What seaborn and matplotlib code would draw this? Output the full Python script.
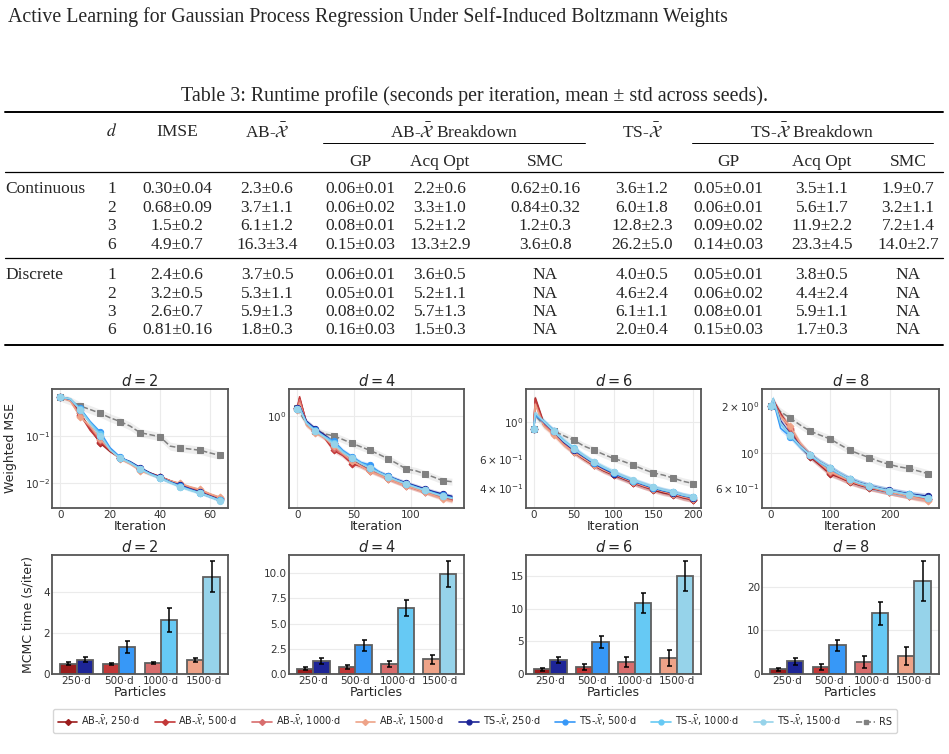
import numpy as np
import pandas as pd
import matplotlib
matplotlib.use('Agg')
import matplotlib.pyplot as plt
from matplotlib.lines import Line2D
import seaborn as sns

W, H = 949, 754

# ---------------- table values ----------------
header_title = "Active Learning for Gaussian Process Regression Under Self-Induced Boltzmann Weights"
table_caption = "Table 3: Runtime profile (seconds per iteration, mean \u00b1 std across seeds)."
table_groups = ["Continuous", "Discrete"]
table_d = ["1", "2", "3", "6"]
imse_cont = ["0.30\u00b10.04", "0.68\u00b10.09", "1.5\u00b10.2", "4.9\u00b10.7"]
imse_disc = ["2.4\u00b10.6", "3.2\u00b10.5", "2.6\u00b10.7", "0.81\u00b10.16"]
ab_cont = ["2.3\u00b10.6", "3.7\u00b11.1", "6.1\u00b11.2", "16.3\u00b13.4"]
ab_disc = ["3.7\u00b10.5", "5.3\u00b11.1", "5.9\u00b11.3", "1.8\u00b10.3"]
ab_gp_cont = ["0.06\u00b10.01", "0.06\u00b10.02", "0.08\u00b10.01", "0.15\u00b10.03"]
ab_gp_disc = ["0.06\u00b10.01", "0.05\u00b10.01", "0.08\u00b10.02", "0.16\u00b10.03"]
ab_acq_cont = ["2.2\u00b10.6", "3.3\u00b11.0", "5.2\u00b11.2", "13.3\u00b12.9"]
ab_acq_disc = ["3.6\u00b10.5", "5.2\u00b11.1", "5.7\u00b11.3", "1.5\u00b10.3"]
ab_smc_cont = ["0.62\u00b10.16", "0.84\u00b10.32", "1.2\u00b10.3", "3.6\u00b10.8"]
ab_smc_disc = ["NA", "NA", "NA", "NA"]
ts_cont = ["3.6\u00b11.2", "6.0\u00b11.8", "12.8\u00b12.3", "26.2\u00b15.0"]
ts_disc = ["4.0\u00b10.5", "4.6\u00b12.4", "6.1\u00b11.1", "2.0\u00b10.4"]
ts_gp_cont = ["0.05\u00b10.01", "0.06\u00b10.01", "0.09\u00b10.02", "0.14\u00b10.03"]
ts_gp_disc = ["0.05\u00b10.01", "0.06\u00b10.02", "0.08\u00b10.01", "0.15\u00b10.03"]
ts_acq_cont = ["3.5\u00b11.1", "5.6\u00b11.7", "11.9\u00b12.2", "23.3\u00b14.5"]
ts_acq_disc = ["3.8\u00b10.5", "4.4\u00b12.4", "5.9\u00b11.1", "1.7\u00b10.3"]
ts_smc_cont = ["1.9\u00b10.7", "3.2\u00b11.1", "7.2\u00b11.4", "14.0\u00b12.7"]
ts_smc_disc = ["NA", "NA", "NA", "NA"]

# ---------------- learning curves (weighted MSE) ----------------
dims = [2, 4, 6, 8]

iters_d2 = [0, 4, 8, 12, 16, 20, 24, 28, 32, 36, 40, 44, 48, 52, 56, 60, 64]
marks_d2 = [0, 8, 16, 24, 32, 40, 48, 56, 64]
mse_d2_ab250 = [0.66, 0.60, 0.30, 0.14, 0.070, 0.046, 0.034, 0.027, 0.020, 0.016, 0.0135, 0.011, 0.0092, 0.0078, 0.0066, 0.0056, 0.0046]
mse_d2_ab500 = [0.66, 0.58, 0.28, 0.13, 0.075, 0.048, 0.033, 0.026, 0.020, 0.016, 0.0132, 0.011, 0.0090, 0.0076, 0.0068, 0.0055, 0.0047]
mse_d2_ab1000 = [0.66, 0.57, 0.26, 0.15, 0.080, 0.050, 0.034, 0.026, 0.019, 0.0155, 0.013, 0.0108, 0.0095, 0.0080, 0.0070, 0.0057, 0.0048]
mse_d2_ab1500 = [0.66, 0.55, 0.25, 0.16, 0.085, 0.050, 0.032, 0.025, 0.018, 0.015, 0.013, 0.011, 0.0097, 0.0082, 0.0072, 0.0058, 0.0049]
mse_d2_ts250 = [0.66, 0.60, 0.36, 0.19, 0.10, 0.052, 0.034, 0.028, 0.021, 0.016, 0.013, 0.0105, 0.0088, 0.0074, 0.0062, 0.0052, 0.0043]
mse_d2_ts500 = [0.66, 0.60, 0.38, 0.20, 0.12, 0.055, 0.035, 0.027, 0.020, 0.0155, 0.0125, 0.0102, 0.0085, 0.0072, 0.0060, 0.0050, 0.0042]
mse_d2_ts1000 = [0.66, 0.61, 0.37, 0.19, 0.11, 0.050, 0.034, 0.027, 0.020, 0.0155, 0.0128, 0.0103, 0.0083, 0.0070, 0.0061, 0.0051, 0.0042]
mse_d2_ts1500 = [0.66, 0.61, 0.35, 0.18, 0.10, 0.050, 0.033, 0.026, 0.0195, 0.015, 0.0125, 0.0100, 0.0082, 0.0069, 0.0060, 0.0050, 0.0041]
mse_d2_rs = [0.66, 0.55, 0.43, 0.36, 0.30, 0.24, 0.20, 0.16, 0.116, 0.105, 0.095, 0.060, 0.055, 0.052, 0.049, 0.043, 0.038]

iters_d4 = [0, 2, 8, 16, 24, 32, 40, 48, 56, 64, 72, 80, 88, 96, 104, 112, 120, 128, 136]
marks_d4 = [0, 16, 32, 48, 64, 80, 96, 112, 128]
mse_d4_ab250 = [1.20, 1.50, 0.88, 0.74, 0.66, 0.55, 0.45, 0.38, 0.34, 0.305, 0.28, 0.255, 0.235, 0.218, 0.205, 0.19, 0.178, 0.168, 0.16]
mse_d4_ab500 = [1.20, 1.55, 0.86, 0.72, 0.62, 0.47, 0.42, 0.35, 0.33, 0.30, 0.275, 0.25, 0.232, 0.215, 0.20, 0.188, 0.175, 0.165, 0.156]
mse_d4_ab1000 = [1.18, 1.45, 0.85, 0.72, 0.64, 0.50, 0.43, 0.37, 0.335, 0.30, 0.277, 0.253, 0.233, 0.216, 0.202, 0.188, 0.176, 0.164, 0.155]
mse_d4_ab1500 = [1.15, 1.35, 0.82, 0.69, 0.62, 0.52, 0.44, 0.375, 0.33, 0.295, 0.272, 0.25, 0.23, 0.213, 0.20, 0.186, 0.173, 0.16, 0.152]
mse_d4_ts250 = [1.20, 1.25, 0.90, 0.76, 0.66, 0.56, 0.46, 0.40, 0.35, 0.315, 0.29, 0.265, 0.245, 0.228, 0.214, 0.20, 0.188, 0.178, 0.17]
mse_d4_ts500 = [1.18, 1.20, 0.88, 0.74, 0.64, 0.58, 0.47, 0.41, 0.36, 0.34, 0.29, 0.265, 0.243, 0.225, 0.21, 0.196, 0.184, 0.173, 0.165]
mse_d4_ts1000 = [1.18, 1.22, 0.87, 0.73, 0.64, 0.56, 0.46, 0.40, 0.355, 0.32, 0.288, 0.262, 0.24, 0.223, 0.208, 0.195, 0.182, 0.171, 0.163]
mse_d4_ts1500 = [1.17, 1.20, 0.86, 0.72, 0.63, 0.54, 0.45, 0.395, 0.35, 0.315, 0.285, 0.26, 0.24, 0.222, 0.207, 0.194, 0.181, 0.17, 0.162]
mse_d4_rs = [1.20, 1.10, 0.85, 0.73, 0.68, 0.65, 0.60, 0.55, 0.51, 0.47, 0.43, 0.39, 0.35, 0.31, 0.30, 0.28, 0.26, 0.24, 0.235]

iters_d6 = [0, 2, 12.5, 25, 37.5, 50, 62.5, 75, 87.5, 100, 112.5, 125, 137.5, 150, 162.5, 175, 187.5, 200]
marks_d6 = [0, 25, 50, 75, 100, 125, 150, 175, 200]
mse_d6_ab250 = [0.91, 1.40, 0.99, 0.87, 0.74, 0.66, 0.60, 0.55, 0.51, 0.48, 0.455, 0.43, 0.41, 0.39, 0.375, 0.365, 0.35, 0.34]
mse_d6_ab500 = [0.91, 1.38, 0.98, 0.86, 0.75, 0.67, 0.61, 0.555, 0.515, 0.485, 0.46, 0.432, 0.41, 0.395, 0.38, 0.368, 0.352, 0.342]
mse_d6_ab1000 = [0.91, 1.30, 0.97, 0.85, 0.74, 0.67, 0.61, 0.56, 0.52, 0.488, 0.462, 0.436, 0.415, 0.398, 0.383, 0.37, 0.355, 0.345]
mse_d6_ab1500 = [0.91, 1.28, 0.95, 0.84, 0.73, 0.66, 0.605, 0.555, 0.515, 0.486, 0.46, 0.435, 0.414, 0.397, 0.382, 0.37, 0.355, 0.346]
mse_d6_ts250 = [0.91, 1.12, 1.00, 0.88, 0.76, 0.68, 0.62, 0.565, 0.525, 0.49, 0.465, 0.44, 0.42, 0.40, 0.386, 0.375, 0.36, 0.35]
mse_d6_ts500 = [0.91, 1.10, 1.01, 0.89, 0.77, 0.69, 0.625, 0.57, 0.53, 0.495, 0.468, 0.442, 0.422, 0.403, 0.388, 0.377, 0.362, 0.352]
mse_d6_ts1000 = [0.91, 1.13, 1.02, 0.89, 0.78, 0.70, 0.63, 0.575, 0.535, 0.50, 0.47, 0.445, 0.425, 0.405, 0.39, 0.378, 0.363, 0.353]
mse_d6_ts1500 = [0.91, 1.14, 1.01, 0.88, 0.77, 0.69, 0.63, 0.575, 0.535, 0.502, 0.472, 0.447, 0.426, 0.406, 0.391, 0.379, 0.364, 0.354]
mse_d6_rs = [0.91, 1.10, 0.96, 0.886, 0.83, 0.78, 0.72, 0.68, 0.64, 0.605, 0.58, 0.55, 0.52, 0.495, 0.48, 0.46, 0.44, 0.427]

iters_d8 = [0, 4, 16.5, 33, 49.5, 66, 82.5, 99, 115.5, 132, 148.5, 165, 181.5, 198, 214.5, 231, 247.5, 264]
marks_d8 = [0, 33, 66, 99, 132, 165, 198, 231, 264]
mse_d8_ab250 = [2.0, 2.20, 1.80, 1.42, 1.12, 0.95, 0.84, 0.74, 0.70, 0.655, 0.625, 0.60, 0.582, 0.565, 0.55, 0.535, 0.522, 0.512]
mse_d8_ab500 = [2.0, 2.18, 1.78, 1.44, 1.14, 0.96, 0.85, 0.75, 0.705, 0.66, 0.63, 0.605, 0.585, 0.566, 0.55, 0.535, 0.52, 0.508]
mse_d8_ab1000 = [2.0, 2.15, 1.75, 1.46, 1.15, 0.97, 0.86, 0.76, 0.71, 0.665, 0.632, 0.607, 0.586, 0.567, 0.55, 0.534, 0.518, 0.503]
mse_d8_ab1500 = [2.0, 2.12, 1.72, 1.49, 1.16, 0.98, 0.865, 0.765, 0.715, 0.668, 0.634, 0.608, 0.586, 0.566, 0.548, 0.53, 0.512, 0.495]
mse_d8_ts250 = [2.0, 2.22, 1.62, 1.32, 1.12, 0.98, 0.88, 0.81, 0.74, 0.685, 0.648, 0.62, 0.598, 0.58, 0.565, 0.55, 0.54, 0.53]
mse_d8_ts500 = [2.0, 2.20, 1.45, 1.28, 1.10, 0.97, 0.87, 0.80, 0.735, 0.68, 0.643, 0.615, 0.594, 0.576, 0.56, 0.545, 0.532, 0.52]
mse_d8_ts1000 = [2.0, 2.25, 1.55, 1.30, 1.11, 0.975, 0.875, 0.805, 0.738, 0.682, 0.645, 0.617, 0.595, 0.577, 0.561, 0.546, 0.533, 0.52]
mse_d8_ts1500 = [2.0, 2.24, 1.58, 1.31, 1.11, 0.98, 0.88, 0.81, 0.74, 0.683, 0.645, 0.617, 0.594, 0.575, 0.558, 0.543, 0.53, 0.515]
mse_d8_rs = [2.0, 2.05, 1.85, 1.68, 1.52, 1.39, 1.31, 1.24, 1.14, 1.05, 0.99, 0.94, 0.89, 0.85, 0.82, 0.80, 0.77, 0.74]

# relative band half-width (RS / methods) per panel
rs_band = [0.22, 0.08, 0.05, 0.06]
method_band = [0.07, 0.05, 0.04, 0.045]

# ---------------- MCMC time bars ----------------
particles = ["250\u00b7d", "500\u00b7d", "1000\u00b7d", "1500\u00b7d"]
time_ab_d2 = [0.50, 0.49, 0.55, 0.68]
err_ab_d2 = [0.07, 0.06, 0.06, 0.10]
time_ts_d2 = [0.70, 1.32, 2.63, 4.76]
err_ts_d2 = [0.11, 0.30, 0.59, 0.76]
time_ab_d4 = [0.53, 0.70, 1.00, 1.46]
err_ab_d4 = [0.13, 0.17, 0.31, 0.43]
time_ts_d4 = [1.26, 2.85, 6.56, 9.93]
err_ts_d4 = [0.30, 0.56, 0.78, 1.27]
time_ab_d6 = [0.72, 1.08, 1.80, 2.47]
err_ab_d6 = [0.23, 0.49, 0.75, 1.20]
time_ts_d6 = [2.10, 4.93, 10.9, 15.1]
err_ts_d6 = [0.46, 0.87, 1.50, 2.30]
time_ab_d8 = [1.07, 1.53, 2.76, 4.06]
err_ab_d8 = [0.42, 0.69, 1.42, 2.10]
time_ts_d8 = [2.9, 6.6, 13.9, 21.3]
err_ts_d8 = [0.73, 1.23, 2.60, 4.60]

ab_colors = ["#9b1c1c", "#c33838", "#d86d6d", "#eea388"]
ts_colors = ["#1d2597", "#3798f7", "#66c9f4", "#96d3ea"]
rs_color = "#808080"

# ---------------- style ----------------
sns.set_style("whitegrid", {"axes.edgecolor": "#555555", "grid.color": "#ebebeb",
                            "axes.labelcolor": "#262626", "xtick.color": "#333333",
                            "ytick.color": "#333333"})
plt.rcParams['font.family'] = ['DejaVu Sans']
plt.rcParams['axes.linewidth'] = 1.3
serif = ['Liberation Serif', 'DejaVu Serif']

fig = plt.figure(figsize=(W / 100, H / 100), dpi=100)


def fx(x):
    return x / W


def fy(y):
    return 1 - y / H


def rect(x0, y0, x1, y1):
    return [fx(x0), fy(y1), (x1 - x0) / W, (y1 - y0) / H]


def hline(x0, x1, y, lw):
    fig.add_artist(Line2D([fx(x0), fx(x1)], [fy(y), fy(y)], color='black', lw=lw))


def ttext(x, y, s, ha='center', size=12.5, **kw):
    fig.text(fx(x), fy(y), s, ha=ha, va='center_baseline', fontsize=size,
             family=serif, math_fontfamily='stix', **kw)


# ---------------- page header & table ----------------
fig.text(fx(8), fy(17), header_title, ha='left', va='center', fontsize=14.3, family=serif)
ttext(475, 94, table_caption, size=14.4)
hline(5, 943, 112, 1.4)
hline(323, 585, 143, 0.7)
hline(692, 933, 143, 0.7)
hline(5, 943, 172, 0.9)
hline(5, 943, 258, 0.9)
hline(5, 943, 345, 1.4)

col_x = [112, 177, 267, 360, 440, 545, 642, 728, 822, 908]
ttext(col_x[0], 130, "$d$")
ttext(col_x[1], 130, "IMSE")
ttext(col_x[2], 130, r"AB-$\bar{\mathcal{X}}$")
ttext(454, 130, r"AB-$\bar{\mathcal{X}}$ Breakdown")
ttext(col_x[6], 130, r"TS-$\bar{\mathcal{X}}$")
ttext(812, 130, r"TS-$\bar{\mathcal{X}}$ Breakdown")
for cx, s in zip([col_x[3], col_x[4], col_x[5], col_x[7], col_x[8], col_x[9]],
                 ["GP", "Acq Opt", "SMC", "GP", "Acq Opt", "SMC"]):
    ttext(cx, 160, s)

cont_cols = [imse_cont, ab_cont, ab_gp_cont, ab_acq_cont, ab_smc_cont,
             ts_cont, ts_gp_cont, ts_acq_cont, ts_smc_cont]
disc_cols = [imse_disc, ab_disc, ab_gp_disc, ab_acq_disc, ab_smc_disc,
             ts_disc, ts_gp_disc, ts_acq_disc, ts_smc_disc]
for group, cols, rows_y in [(table_groups[0], cont_cols, [187, 205.5, 224, 242.5]),
                            (table_groups[1], disc_cols, [273, 291.5, 310, 328.5])]:
    ttext(5, rows_y[0], group, ha='left')
    for r, y in enumerate(rows_y):
        ttext(col_x[0], y, table_d[r])
        for c, col in enumerate(cols):
            ttext(col_x[c + 1], y, col[r])

# ---------------- figure panels ----------------
top_x = [(52, 228), (289, 464), (526, 701), (762, 939)]
ylims = [(0.0029, 0.984), (0.131, 1.84), (0.304, 1.585), (0.446, 2.59)]
xlims = [(-3.3, 67.2), (-7.3, 146.6), (-9.6, 209.6), (-14.6, 281.8)]
bar_tops = [5.82, 11.8, 18.3, 27.3]

curve_sets = {
    2: (iters_d2, marks_d2, [mse_d2_ab250, mse_d2_ab500, mse_d2_ab1000, mse_d2_ab1500,
                             mse_d2_ts250, mse_d2_ts500, mse_d2_ts1000, mse_d2_ts1500], mse_d2_rs),
    4: (iters_d4, marks_d4, [mse_d4_ab250, mse_d4_ab500, mse_d4_ab1000, mse_d4_ab1500,
                             mse_d4_ts250, mse_d4_ts500, mse_d4_ts1000, mse_d4_ts1500], mse_d4_rs),
    6: (iters_d6, marks_d6, [mse_d6_ab250, mse_d6_ab500, mse_d6_ab1000, mse_d6_ab1500,
                             mse_d6_ts250, mse_d6_ts500, mse_d6_ts1000, mse_d6_ts1500], mse_d6_rs),
    8: (iters_d8, marks_d8, [mse_d8_ab250, mse_d8_ab500, mse_d8_ab1000, mse_d8_ab1500,
                             mse_d8_ts250, mse_d8_ts500, mse_d8_ts1000, mse_d8_ts1500], mse_d8_rs),
}
bar_sets = {
    2: (time_ab_d2, err_ab_d2, time_ts_d2, err_ts_d2),
    4: (time_ab_d4, err_ab_d4, time_ts_d4, err_ts_d4),
    6: (time_ab_d6, err_ab_d6, time_ts_d6, err_ts_d6),
    8: (time_ab_d8, err_ab_d8, time_ts_d8, err_ts_d8),
}
colors = ab_colors + ts_colors
markers = ['D'] * 4 + ['o'] * 4

for k, d in enumerate(dims):
    x0, x1 = top_x[k]
    # ---- learning curves ----
    ax = fig.add_axes(rect(x0, 389, x1, 508))
    ax.set_yscale('log')
    iters, marks, curves, rs = curve_sets[d]
    idx = [i for i, it in enumerate(iters) if it in marks]
    xs = np.array(iters, dtype=float)
    rs_arr = np.array(rs)
    ax.fill_between(xs, rs_arr / (1 + rs_band[k]), rs_arr * (1 + rs_band[k]),
                    color=rs_color, alpha=0.13, lw=0)
    sns.lineplot(x=xs, y=rs_arr, ax=ax, color=rs_color, lw=1.1, ls='--', marker='s',
                 markersize=4, markevery=idx, markeredgecolor=rs_color, zorder=3)
    for vals, c, m in zip(curves, colors, markers):
        v = np.array(vals)
        ax.fill_between(xs, v / (1 + method_band[k]), v * (1 + method_band[k]),
                        color=c, alpha=0.2, lw=0)
        sns.lineplot(x=xs, y=v, ax=ax, color=c, lw=1.1, marker=m,
                     markersize=3.5 if m == 'D' else 4.5, markevery=idx,
                     markeredgecolor=c, zorder=4)
    ax.set_xlim(*xlims[k])
    ax.set_ylim(*ylims[k])
    ax.set_title(f"$d = {d}$", fontsize=10.5, pad=2)
    ax.set_xlabel("Iteration", fontsize=9, labelpad=0)
    ax.tick_params(which='both', labelsize=7.5, pad=1.5, length=0)
    if k == 0:
        ax.set_ylabel("Weighted MSE", fontsize=9)
        ax.yaxis.set_label_coords(-0.2, 0.5)
    else:
        ax.set_ylabel("")

    # ---- MCMC time bars ----
    bx = fig.add_axes(rect(x0, 555, x1, 674))
    t_ab, e_ab, t_ts, e_ts = bar_sets[d]
    df = pd.DataFrame({
        "Particles": particles * 2,
        "time": t_ab + t_ts,
        "method": ["AB"] * 4 + ["TS"] * 4,
    })
    sns.barplot(data=df, x="Particles", y="time", hue="method", ax=bx, width=0.77,
                errorbar=None, legend=False, palette=[ab_colors[1], ts_colors[1]],
                edgecolor="#5f5f5f", linewidth=1.3)
    for cont, cols_, errs in zip(bx.containers, [ab_colors, ts_colors], [e_ab, e_ts]):
        for bar, c, e in zip(cont, cols_, errs):
            bar.set_facecolor(c)
            bx.errorbar(bar.get_x() + bar.get_width() / 2, bar.get_height(), yerr=e,
                        color='black', lw=1.1, capsize=1.8, capthick=1.1, zorder=5)
    bx.set_xlim(-0.58, 3.58)
    bx.set_ylim(0, bar_tops[k])
    bx.set_title(f"$d = {d}$", fontsize=10.5, pad=2)
    bx.set_xlabel("Particles", fontsize=9, labelpad=0)
    bx.tick_params(which='both', labelsize=7.5, pad=1.5, length=0)
    if k == 0:
        bx.set_ylabel("MCMC time (s/iter)", fontsize=9)
        bx.yaxis.set_label_coords(-0.1, 0.5)
    else:
        bx.set_ylabel("")

# ---------------- legend ----------------
handles = []
labels = []
for i, p in enumerate(["250", "500", "1000", "1500"]):
    handles.append(Line2D([], [], color=ab_colors[i], marker='D', markersize=3, lw=1.2))
    labels.append(r"AB-$\bar{\mathcal{X}}$, " + p + "\u00b7d")
for i, p in enumerate(["250", "500", "1000", "1500"]):
    handles.append(Line2D([], [], color=ts_colors[i], marker='o', markersize=3.5, lw=1.2))
    labels.append(r"TS-$\bar{\mathcal{X}}$, " + p + "\u00b7d")
handles.append(Line2D([], [], color=rs_color, marker='s', markersize=3, lw=1.2, ls='--'))
labels.append("RS")
fig.legend(handles, labels, loc='center', bbox_to_anchor=(fx(475), fy(721)), ncol=9,
           fontsize=7, frameon=True, edgecolor='#cccccc', handlelength=2.0,
           columnspacing=1.55, handletextpad=0.4, borderpad=0.5)

fig.savefig("out.png", dpi=100)
